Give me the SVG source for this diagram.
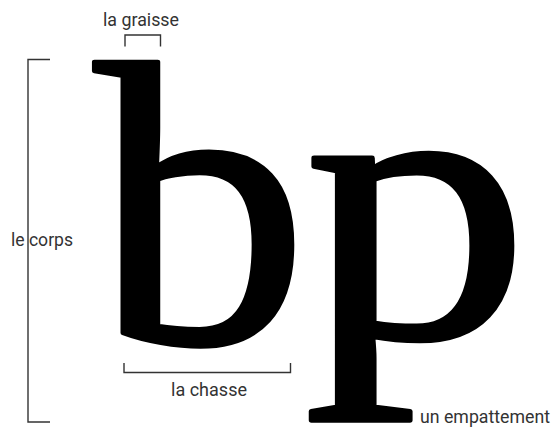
<svg xmlns="http://www.w3.org/2000/svg" width="553" height="428" viewBox="0 0 553 428">
<style>
.lbl{font-family:Roboto,"Liberation Sans",sans-serif;font-size:18px;fill:#333}
.br{fill:none;stroke:#333;stroke-width:1.4}
.big{font-family:"Liberation Serif",serif;font-size:100px;fill:#000;stroke:#000;stroke-width:1.2;stroke-linejoin:round}
</style>
<rect width="553" height="428" fill="#fff"/>
<g id="letters">
<text class="big" transform="translate(94.5,342.4) scale(4.27,4.04)">b</text>
<text class="big" transform="translate(304.2,337.2) scale(4.5,3.905)">p</text>
</g>
<g id="connectors">
<path class="br" d="M50,59.5 H28 V422 H50"/>
<path class="br" d="M125,46.5 V35 H160.5 V46.5"/>
<path class="br" d="M124,363 V372.5 H290.5 V363"/>
</g>
<g id="graisse"><text class="lbl" x="103" y="26" textLength="76" lengthAdjust="spacingAndGlyphs">la graisse</text></g>
<g id="corps"><text class="lbl" x="11" y="246" textLength="62" lengthAdjust="spacingAndGlyphs">le corps</text></g>
<g id="chasse"><text class="lbl" x="171" y="396" textLength="76" lengthAdjust="spacingAndGlyphs">la chasse</text></g>
<g id="empattement"><text class="lbl" x="420" y="423" textLength="130" lengthAdjust="spacingAndGlyphs">un empattement</text></g>
</svg>
